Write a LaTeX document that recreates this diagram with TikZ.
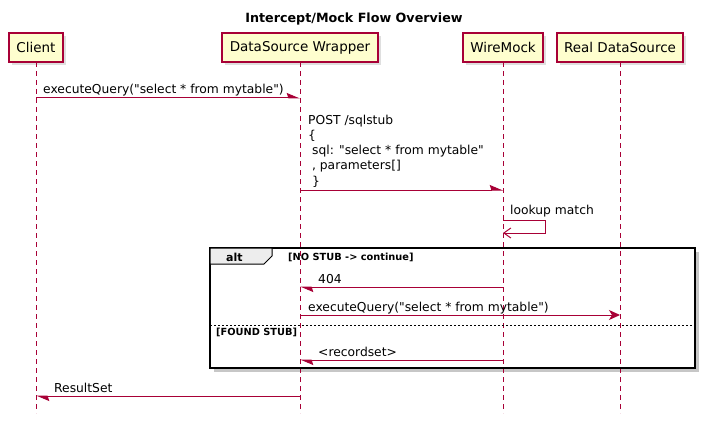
\documentclass[tikz,border=0pt]{standalone}
\usepackage{fontspec}
\setmainfont{DejaVu Sans}[Ligatures=TeXOff]
\usetikzlibrary{arrows.meta, positioning, shadows}
\definecolor{umlred}{HTML}{A80036}
\definecolor{umlfill}{HTML}{FEFECE}

\begin{document}
\begin{tikzpicture}[x=1pt, y=-1pt, node distance=14pt,
  part/.style={draw=umlred, fill=umlfill, line width=1.1pt, minimum height=29pt, inner sep=0pt, outer sep=0pt,
    font=\fontsize{13.5}{16}\selectfont, drop shadow={shadow xshift=3pt, shadow yshift=-3pt, opacity=0.25}},
  life/.style={umlred, line width=0.9pt, dash pattern=on 5pt off 4pt},
  msg/.style={umlred, line width=1pt, -{Stealth[harpoon, length=12pt, width=10pt, inset=1.5pt]}},
  full/.style={umlred, line width=1pt, -{Stealth[length=11pt, width=10pt, inset=3pt]}},
  selfmsg/.style={umlred, line width=1pt, -{Straight Barb[length=7pt, width=10pt]}},
  lbl/.style={anchor=base west, inner sep=0pt, font=\fontsize{12.3}{15.2}\selectfont},
  guard/.style={anchor=base west, inner sep=0pt, font=\bfseries\fontsize{9.8}{12}\selectfont}]
  \useasboundingbox (0,0) rectangle (706,425);

  % Title
  \node[font=\bfseries\fontsize{12.7}{15}\selectfont] (title) at (354,19) {Intercept/Mock Flow Overview};

  % Participants
  \node[part, minimum width=54pt] (client) at (36,47.5) {Client};
  \node[part, minimum width=156pt, right=159pt of client] (wrapper) {DataSource Wrapper};
  \node[part, minimum width=80pt, right=85pt of wrapper] (wiremock) {WireMock};
  \node[part, minimum width=126pt, right=of wiremock] (realds) {Real DataSource};

  % Rows
  \coordinate (m1) at (0,98);
  \coordinate (m2) at (0,190);
  \coordinate (m3) at (0,220);
  \coordinate (m3b) at (0,233);
  \coordinate (m4) at (0,287);
  \coordinate (m5) at (0,315);
  \coordinate (sep) at (0,325);
  \coordinate (m6) at (0,360);
  \coordinate (m7) at (0,396);
  \coordinate (bottom) at (0,413);

  % alt frame (shadow and background)
  \coordinate (altnw) at (210,248);
  \coordinate (altse) at (695,368);
  \fill[black!22] ([shift={(4pt,-4pt)}]altnw) rectangle ([shift={(4pt,-4pt)}]altse);
  \fill[white] (altnw) rectangle (altse);

  % Lifelines
  \foreach \p in {client, wrapper, wiremock, realds}
    \draw[life] (\p.south) -- (\p |- bottom);

  % alt frame
  \draw[line width=1.5pt] (altnw) rectangle (altse);
  \draw[line width=1pt, fill=black!7] (altnw) -- ++(62,0) -- ++(0,8) -- ++(-8,8) -- ++(-54,0) -- cycle;
  \node[anchor=base west, inner sep=0pt, font=\bfseries\fontsize{11}{13}\selectfont] (alttag) at (226,261) {alt};
  \node[guard] (g1) at (288,260) {[NO STUB -> continue]};
  \draw[line width=0.8pt, dash pattern=on 2pt off 2pt] (altnw |- sep) -- (altse |- sep);
  \node[guard] (g2) at (216,335) {[FOUND STUB]};

  % Messages
  \draw[msg] (client |- m1) -- (wrapper |- m1);
  \path (client |- m1) ++(7,-4) node[lbl] (l1) {executeQuery("select * from mytable")};
  \draw[msg] (wrapper |- m2) -- (wiremock |- m2);
  \path (wrapper |- m2) ++(8,-5) node[lbl, align=left] (l2)
    {POST /sqlstub\\\{\\\ sql: "select * from mytable"\\\ , parameters[]\\\ \}};
  \draw[selfmsg] (wiremock |- m3) -- ++(42,0) |- (wiremock |- m3b);
  \path (wiremock |- m3) ++(7,-6) node[lbl] (l3) {lookup match};
  \draw[msg] (wiremock |- m4) -- (wrapper |- m4);
  \path (wrapper |- m4) ++(18,-4) node[lbl] (l4) {404};
  \draw[full] (wrapper |- m5) -- (realds |- m5);
  \path (wrapper |- m5) ++(8,-4) node[lbl] (l5) {executeQuery("select * from mytable")};
  \draw[msg] (wiremock |- m6) -- (wrapper |- m6);
  \path (wrapper |- m6) ++(18,-4) node[lbl] (l6) {<recordset>};
  \draw[msg] (wrapper |- m7) -- (client |- m7);
  \path (client |- m7) ++(18,-4) node[lbl] (l7) {ResultSet};
\end{tikzpicture}
\end{document}
